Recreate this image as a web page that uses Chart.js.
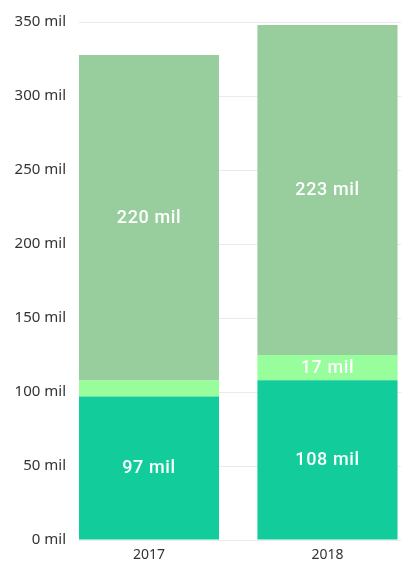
<!DOCTYPE html>
<html>
<head>
<meta charset="utf-8">
<script src="https://cdn.jsdelivr.net/npm/chart.js@4"></script>
<style>
  html, body { margin: 0; padding: 0; background: #fff; }
  #wrap { width: 402px; height: 565px; position: relative; }
</style>
</head>
<body>
<div id="wrap"><canvas id="chart"></canvas></div>
<script>
const years = ["2017", "2018"];
const baseValues = [97, 108];
const midValues = [10.7, 17];
const topValues = [220, 223];
const yTicks = [0, 50, 100, 150, 200, 250, 300, 350];

const colors = ["#12cd9b", "#97fe9b", "#98cd9d"];

// white value labels in the middle of each segment, skipped when the segment is too thin
const segmentLabels = {
  id: "segmentLabels",
  afterDatasetsDraw(chart) {
    const ctx = chart.ctx;
    ctx.save();
    ctx.fillStyle = "#ffffff";
    ctx.font = "500 18px Roboto";
    ctx.letterSpacing = "0.6px";
    ctx.textAlign = "center";
    ctx.textBaseline = "middle";
    chart.data.datasets.forEach((ds, di) => {
      const meta = chart.getDatasetMeta(di);
      meta.data.forEach((bar, i) => {
        const { x, y, base } = bar.getProps(["x", "y", "base"], true);
        if (Math.abs(base - y) < 20) return;
        const value = ds.data[i].y;
        ctx.fillText(`${Math.round(value)} mil`, x, (y + base) / 2 + 1);
      });
    });
    ctx.restore();
  }
};

function points(values) {
  return values.map((v, i) => ({ x: i, y: v }));
}

new Chart(document.getElementById("chart"), {
  type: "bar",
  data: {
    datasets: [
      { data: points(baseValues), backgroundColor: colors[0] },
      { data: points(midValues), backgroundColor: colors[1] },
      { data: points(topValues), backgroundColor: colors[2] }
    ]
  },
  options: {
    responsive: true,
    maintainAspectRatio: false,
    animation: false,
    categoryPercentage: 1,
    barPercentage: 0.785,
    layout: { padding: { top: 14, right: 1, left: 0, bottom: 0 } },
    plugins: {
      legend: { display: false },
      tooltip: { enabled: false }
    },
    scales: {
      x: {
        type: "linear",
        stacked: true,
        offset: false,
        min: -0.392,
        max: 1.412,
        afterBuildTicks: scale => { scale.ticks = years.map((_, i) => ({ value: i })); },
        afterFit: scale => { scale.height = 25; },
        grid: { display: false, drawTicks: false },
        border: { display: false },
        ticks: {
          callback: value => years[value],
          color: "#333",
          font: { family: "Noto Sans", size: 14 },
          padding: 7
        }
      },
      y: {
        stacked: true,
        min: 0,
        max: 350,
        afterBuildTicks: scale => { scale.ticks = yTicks.map(v => ({ value: v })); },
        afterFit: scale => { scale.width = 79; },
        grid: { color: "#ebebeb", drawTicks: false },
        border: { display: false },
        ticks: {
          callback: value => `${value} mil`,
          color: "#333",
          font: { family: "Noto Sans", size: 15 },
          padding: 13
        }
      }
    }
  },
  plugins: [segmentLabels]
});
</script>
</body>
</html>
